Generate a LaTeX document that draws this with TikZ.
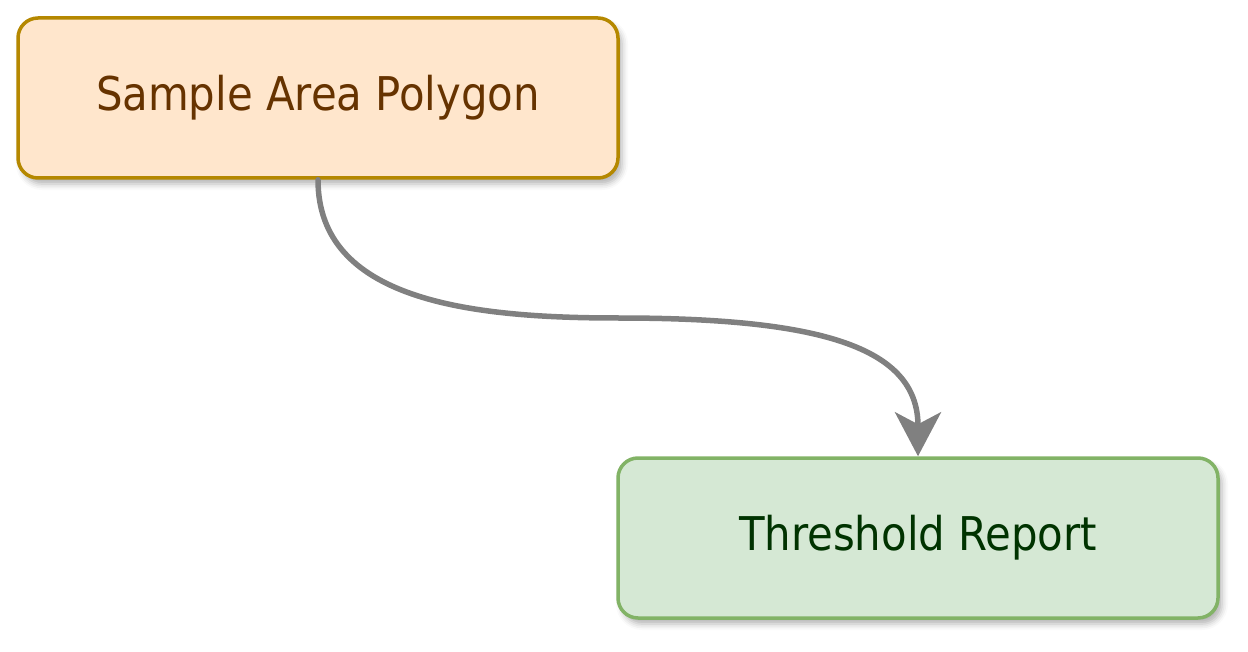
\documentclass[tikz,border=0pt]{standalone}
\usepackage{fontspec}
\setmainfont{DejaVu Sans Condensed}
\usetikzlibrary{arrows.meta,shadows.blur}
\definecolor{ink}{HTML}{808080}
\definecolor{sandfill}{HTML}{FFE6CC}
\definecolor{sandline}{HTML}{B58800}
\definecolor{sandtext}{HTML}{663300}
\definecolor{leaffill}{HTML}{D5E8D4}
\definecolor{leafline}{HTML}{82B366}
\definecolor{leaftext}{HTML}{003300}

\tikzset{
  stepbox/.style={rounded corners=20pt,line width=3.5pt,minimum width=600pt,
    minimum height=160pt,inner sep=0pt,
    blur shadow={shadow xshift=4pt,shadow yshift=-6pt,shadow blur radius=6pt,
      shadow opacity=30}},
  flow/.style={ink,line width=5.5pt,-{Stealth[length=44pt,width=46pt,inset=12pt]}}
}

\begin{document}
\begin{tikzpicture}[x=1pt,y=-1pt,font=\fontsize{46.5}{56}\selectfont,line cap=round,line join=round]
  \useasboundingbox (0,0) rectangle (1248,652);

  % Source and result boxes.
  \node[stepbox,draw=sandline,fill=sandfill,text=sandtext] (polygon) at (318,98) {Sample Area Polygon};
  \node[stepbox,draw=leafline,fill=leaffill,text=leaftext] (report) at (918,538) {Threshold Report};

  % S-shaped connector.
  \coordinate (bend) at (618,318);
  \draw[flow] (polygon.south) .. controls +(0,120) and +(-150,0) .. (bend)
    .. controls +(200,0) and +(0,-110) .. (report.north);
\end{tikzpicture}
\end{document}
